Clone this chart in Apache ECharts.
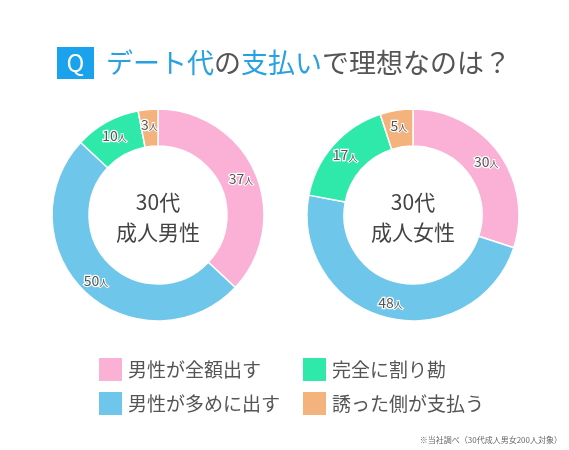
<!DOCTYPE html>
<html>
<head>
<meta charset="utf-8">
<script src="https://cdn.jsdelivr.net/npm/echarts@6/dist/echarts.min.js"></script>
<style>
html,body{margin:0;padding:0;background:#fff;}
#chart{width:569px;height:450px;}
</style>
</head>
<body>
<div id="chart"></div>
<script>
var categories = ['男性が全額出す', '男性が多めに出す', '完全に割り勘', '誘った側が支払う'];
var colors = ['#fbb1d5', '#6ec7ea', '#2fe9aa', '#f4b27c'];
var maleValues = [37, 50, 10, 3];
var femaleValues = [30, 48, 17, 5];
var maleLabel = ['30代', '成人男性'];
var femaleLabel = ['30代', '成人女性'];

var font = '"Noto Sans CJK JP", sans-serif';
var chart = echarts.init(document.getElementById('chart'));

function pieData(vals) {
    return vals.map(function (v, i) {
        return { name: categories[i], value: v, itemStyle: { color: colors[i] } };
    });
}

function pieSeries(vals, cx) {
    return {
        type: 'pie',
        center: [cx, 215],
        radius: [69, 106],
        startAngle: 90,
        clockwise: true,
        avoidLabelOverlap: false,
        silent: true,
        itemStyle: { borderColor: '#fff', borderWidth: 1.5 },
        label: {
            show: true,
            position: 'inside',
            formatter: '{v|{c}}{u|人}',
            rich: {
                v: { fontSize: 14, color: '#555', fontFamily: font, textBorderColor: '#fff', textBorderWidth: 2.5 },
                u: { fontSize: 9, color: '#555', fontFamily: font, textBorderColor: '#fff', textBorderWidth: 2, padding: [4, 0, 0, 0] }
            }
        },
        labelLine: { show: false },
        data: pieData(vals)
    };
}

function centerText(lines, cx) {
    return {
        type: 'text',
        x: cx,
        y: 217,
        style: {
            text: lines.join('\n'),
            align: 'center',
            verticalAlign: 'middle',
            fontSize: 21,
            lineHeight: 30,
            fill: '#444',
            fontFamily: font
        }
    };
}

var legendText = { color: '#555', fontSize: 19, fontFamily: font, padding: [0, 0, 0, 0] };

var option = {
    backgroundColor: '#fff',
    animation: false,
    title: {
        text: '{b|デート代}{g|の}{b|支払い}{g|で理想なのは？}',
        left: 101,
        top: 44,
        textStyle: {
            fontWeight: 'normal',
            rich: {
                b: { fontSize: 27, color: '#27a1e2', fontFamily: font, fontWeight: 'normal' },
                g: { fontSize: 27, color: '#555', fontFamily: font, fontWeight: 'normal' }
            }
        }
    },
    legend: [
        {
            data: [categories[0], categories[1]],
            orient: 'vertical',
            left: 92, top: 351,
            itemWidth: 25, itemHeight: 25, itemGap: 7,
            icon: 'rect',
            selectedMode: false,
            textStyle: legendText
        },
        {
            data: [categories[2], categories[3]],
            orient: 'vertical',
            left: 296, top: 351,
            itemWidth: 25, itemHeight: 25, itemGap: 7,
            icon: 'rect',
            selectedMode: false,
            textStyle: legendText
        }
    ],
    graphic: [
        {
            type: 'rect',
            shape: { x: 57, y: 47, width: 37, height: 32 },
            style: { fill: '#1aa3ec' }
        },
        {
            type: 'text',
            x: 75.5, y: 63,
            style: { text: 'Q', align: 'center', verticalAlign: 'middle', fontSize: 24, fill: '#fff', fontFamily: font }
        },
        centerText(maleLabel, 158),
        centerText(femaleLabel, 413),
        {
            type: 'text',
            x: 562, y: 440,
            style: { text: '※当社調べ（30代成人男女200人対象）', align: 'right', verticalAlign: 'middle', fontSize: 8, fill: '#666', fontFamily: font }
        }
    ],
    series: [
        pieSeries(maleValues, 158),
        pieSeries(femaleValues, 413)
    ]
};
chart.setOption(option);
</script>
</body>
</html>
